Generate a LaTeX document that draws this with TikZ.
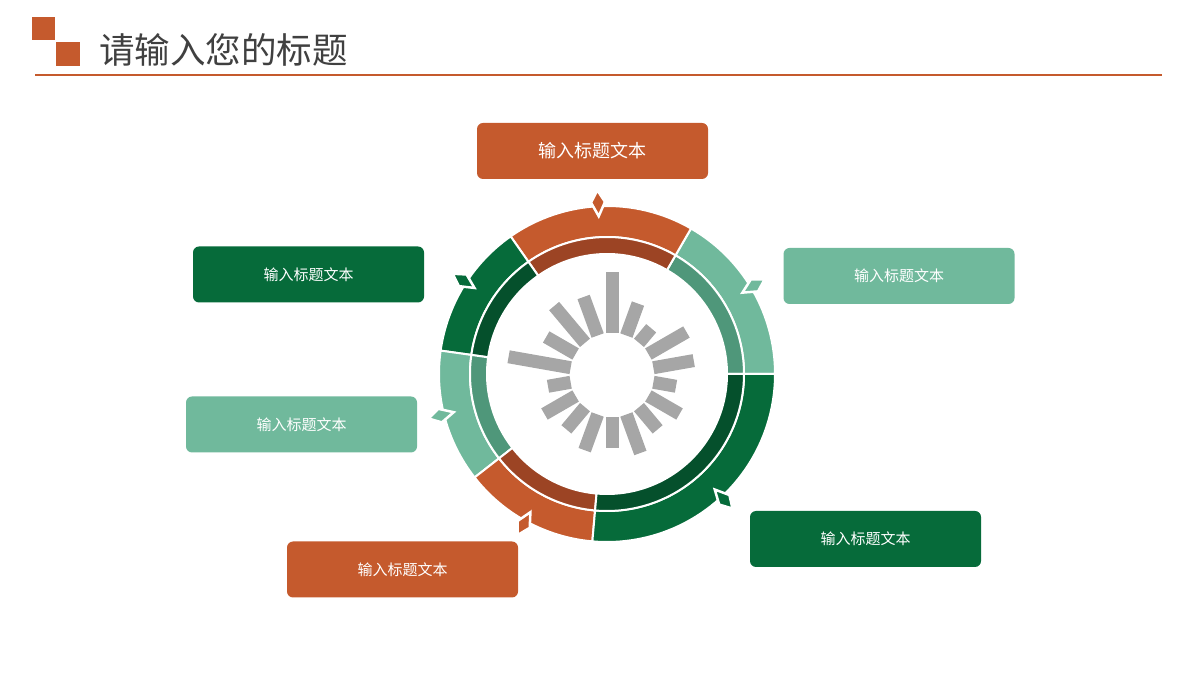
\documentclass[tikz,border=0pt]{standalone}
\usepackage{fontspec}
\newfontfamily\cjk{Noto Sans CJK SC}
\usepackage{tikz}
\usetikzlibrary{calc}

\definecolor{rust}{HTML}{C55A2D}
\definecolor{rustdark}{HTML}{9C4424}
\definecolor{forest}{HTML}{066B3A}
\definecolor{forestdark}{HTML}{05502C}
\definecolor{mint}{HTML}{70B99C}
\definecolor{mintdark}{HTML}{4F977A}
\definecolor{bargray}{HTML}{A6A6A6}
\definecolor{titlegray}{HTML}{404040}

\tikzset{
    seg/.style={draw=white, line width=2pt},
    label box/.style={rounded corners=6pt, minimum width=231pt, minimum height=56pt,
        inner sep=0pt, text=white, font=\cjk\fontsize{15}{18}\selectfont},
    bar/.style={draw=bargray, line width=13pt},
    tip/.style={draw=white, line width=2.5pt, line join=miter}
}

% annular sector: colour, start, end, inner radius, outer radius
\newcommand{\ringseg}[5]{%
    \filldraw[seg, fill=#1] ($(ring)+(#2:#5)$) arc[start angle=#2, end angle=#3, radius=#5 pt]
        -- ($(ring)+(#3:#4)$) arc[start angle=#3, end angle=#2, radius=#4 pt] -- cycle;}
% small rhombus on the outer ring: colour, angle
\newcommand{\ringtip}[2]{%
    \filldraw[tip, fill=#1] ($(ring)+(#2:184)$) -- ($(ring)+(#2:172)+(#2+90:7)$)
        -- ($(ring)+(#2:158)$) -- ($(ring)+(#2:172)+(#2-90:7)$) -- cycle;}

\begin{document}
\begin{tikzpicture}[x=1pt, y=1pt]
    \useasboundingbox (0,0) rectangle (1200,680);

    % title
    \fill[rust] (32,640) rectangle (55,663);
    \fill[rust] (56,614) rectangle (80,638);
    \draw[rust, line width=2pt] (35,605) -- (1162,605);
    \node[anchor=west, inner sep=0pt, text=titlegray, font=\cjk\fontsize{35.5}{42}\selectfont]
        (title) at (99,630) {请输入您的标题};

    \coordinate (ring) at (607,306);
    \coordinate (hub)  at (612,305);

    % outer ring
    \ringseg{mint}{0}{60}{137}{168}
    \ringseg{rust}{60}{125}{137}{168}
    \ringseg{forest}{125}{172}{137}{168}
    \ringseg{mint}{172}{218}{137}{168}
    \ringseg{rust}{218}{265}{137}{168}
    \ringseg{forest}{265}{360}{137}{168}

    % inner ring
    \ringseg{mintdark}{0}{60}{120}{137}
    \ringseg{rustdark}{60}{125}{120}{137}
    \ringseg{forestdark}{125}{172}{120}{137}
    \ringseg{mintdark}{172}{218}{120}{137}
    \ringseg{rustdark}{218}{265}{120}{137}
    \ringseg{forestdark}{265}{360}{120}{137}

    % pointers
    \ringtip{rust}{93}
    \ringtip{forest}{147}
    \ringtip{mint}{31}
    \ringtip{mint}{194}
    \ringtip{rust}{241}
    \ringtip{forest}{-47}

    % bars
    \foreach \a/\r in {90/103, 70/76, 50/61, 30/86, 10/83, -10/65, -30/78, -50/71,
                       -70/83, -90/73, -110/80, -130/71, -150/78, -170/65,
                       170/105, 150/76, 130/90, 110/83}
        \draw[bar] ($(hub)+(\a:42)$) -- ($(hub)+(\a:\r)$);

    % text boxes
    \node[label box, fill=rust, font=\cjk\fontsize{18}{21}\selectfont] (boxTop) at (592.5,529) {输入标题文本};
    \node[label box, fill=forest] (boxUL) at (308.5,405.5) {输入标题文本};
    \node[label box, fill=mint]   (boxUR) at (899,404)     {输入标题文本};
    \node[label box, fill=mint]   (boxL)  at (301.5,255.5) {输入标题文本};
    \node[label box, fill=rust]   (boxBL) at (402.5,110.5) {输入标题文本};
    \node[label box, fill=forest] (boxBR) at (865.5,141)   {输入标题文本};
\end{tikzpicture}
\end{document}
